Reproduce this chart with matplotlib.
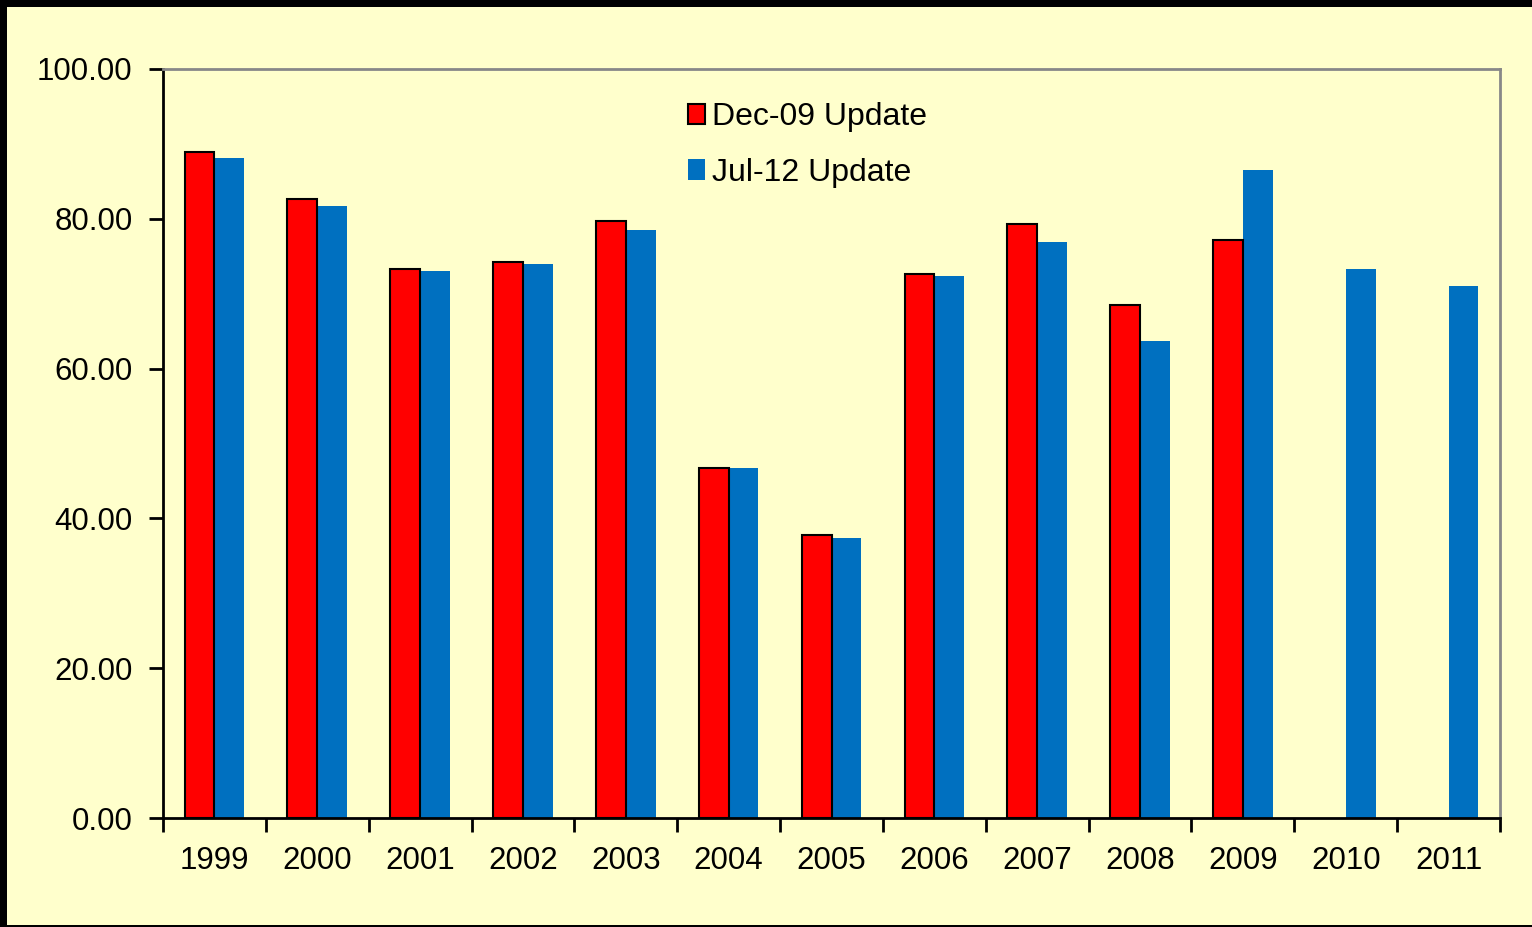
import matplotlib.pyplot as plt
from matplotlib.patches import Rectangle
import numpy as np

plt.rcParams['font.family'] = ['Liberation Sans', 'DejaVu Sans']

years = ['1999', '2000', '2001', '2002', '2003', '2004', '2005',
         '2006', '2007', '2008', '2009', '2010', '2011']
dec09 = [88.9, 82.6, 73.3, 74.2, 79.7, 46.7, 37.8, 72.6, 79.3, 68.5, 77.2,
         np.nan, np.nan]
jul12 = [88.1, 81.7, 73.0, 74.0, 78.5, 46.7, 37.4, 72.4, 76.9, 63.7, 86.5,
         73.3, 71.0]

bg = '#FFFFCC'
fig = plt.figure(figsize=(15.32, 9.27), dpi=100, facecolor='black')
fig.patches.append(Rectangle((7 / 1532, 2 / 927), 1, (927 - 9) / 927,
                             transform=fig.transFigure, facecolor=bg,
                             edgecolor='none', zorder=-10))

ax = fig.add_axes([163 / 1532, 109 / 927, 1337 / 1532, 749 / 927])
ax.set_facecolor(bg)

x = np.arange(len(years))
w = 0.29
ax.bar(x - w / 2, dec09, w, color='#FF0000', edgecolor='black',
       linewidth=1.5, label='Dec-09 Update', zorder=3)
ax.bar(x + w / 2, jul12, w, color='#0070C0', edgecolor='none',
       label='Jul-12 Update', zorder=2)

ax.set_xlim(-0.5, len(years) - 0.5)
ax.set_ylim(0, 100)
ax.set_yticks(np.arange(0, 101, 20))
ax.set_yticklabels([f'{v:.2f}' for v in np.arange(0, 101, 20)])
ax.set_xticks(x)
ax.set_xticklabels(years)
ax.set_xticks(np.arange(-0.5, len(years)), minor=True)
ax.tick_params(axis='x', which='major', length=0, pad=20, labelsize=22.5)
ax.tick_params(axis='x', which='minor', length=10, width=2, direction='out')
ax.tick_params(axis='y', length=10, width=2, direction='out', pad=12,
               labelsize=22.5)

for s in ['left', 'bottom']:
    ax.spines[s].set_color('black')
    ax.spines[s].set_linewidth(2)
for s in ['top', 'right']:
    ax.spines[s].set_color('#888888')
    ax.spines[s].set_linewidth(2)

leg = ax.legend(loc='upper left', bbox_to_anchor=(0.371, 0.994),
                frameon=False, fontsize=23, handlelength=0.55,
                handleheight=0.6, handletextpad=0.2, labelspacing=0.8)

fig.savefig('out.png', dpi=100, facecolor=fig.get_facecolor())
